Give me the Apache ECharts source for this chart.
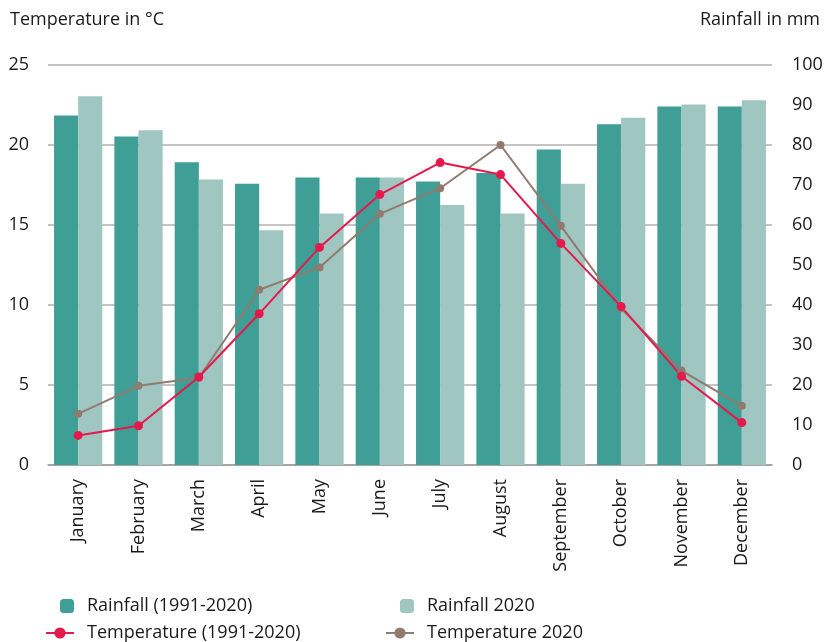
<!DOCTYPE html>
<html>
<head>
<meta charset="utf-8">
<script src="https://cdn.jsdelivr.net/npm/echarts@6/dist/echarts.min.js"></script>
<style>html,body{margin:0;padding:0;background:#fff}#c{width:827px;height:642px}</style>
</head>
<body>
<div id="c"></div>
<script>
var months = ['January','February','March','April','May','June','July','August','September','October','November','December'];
var rainfallNormal = [87.4, 82.1, 75.7, 70.3, 71.9, 71.9, 70.9, 73.0, 78.9, 85.2, 89.6, 89.6];
var rainfall2020 = [92.2, 83.7, 71.4, 58.7, 62.9, 71.9, 65.0, 62.9, 70.3, 86.8, 90.1, 91.2];
var tempNormal = [1.85, 2.45, 5.5, 9.45, 13.6, 16.9, 18.9, 18.15, 13.85, 9.9, 5.55, 2.65];
var temp2020 = [3.2, 4.95, 5.45, 10.95, 12.35, 15.7, 17.3, 20.0, 14.95, 9.8, 5.9, 3.7];
var tempTicks = [0, 25, 5];
var rainTicks = [0, 100, 10];

var FONT = '"Open Sans"';
var TXT = '#1a1a1a';
var C_DARK = '#3f9e96', C_LIGHT = '#a0c6c1', C_RED = '#e5194b', C_BROWN = '#917a6e';

function legendItem(name, left, top, w, h) {
  return {
    data: [name], left: left, top: top, itemWidth: w, itemHeight: h, itemGap: 0, padding: 0,
    textStyle: {fontFamily: FONT, fontSize: 18, color: TXT, padding: [0, 0, 0, 8]},
    selectedMode: false
  };
}

var chart = echarts.init(document.getElementById('c'), null, {renderer: 'canvas'});
chart.setOption({
  animation: false,
  textStyle: {fontFamily: FONT},
  title: [
    {text: 'Temperature in °C', left: 5, top: 6, textStyle: {fontFamily: FONT, fontSize: 18, fontWeight: 'normal', color: TXT}},
    {text: 'Rainfall in mm', right: 2, top: 6, textStyle: {fontFamily: FONT, fontSize: 18, fontWeight: 'normal', color: TXT}}
  ],
  legend: [
    legendItem('Rainfall (1991-2020)', 60, 597, 14, 14),
    legendItem('Rainfall 2020', 400, 597, 14, 14),
    legendItem('Temperature (1991-2020)', 45, 624, 28, 14),
    legendItem('Temperature 2020', 385, 624, 28, 14)
  ],
  grid: {left: 48, right: 55, top: 65, bottom: 177},
  xAxis: {
    type: 'category', data: months,
    axisLine: {lineStyle: {color: '#9a9a9a', width: 1.5}},
    axisTick: {show: false},
    axisLabel: {rotate: 90, margin: 14, fontSize: 18, color: TXT, fontFamily: FONT}
  },
  yAxis: [
    {type: 'value', min: tempTicks[0], max: tempTicks[1], interval: tempTicks[2],
     axisLine: {show: false}, axisTick: {show: false},
     axisLabel: {margin: 19, fontSize: 18, color: TXT, fontFamily: FONT},
     splitLine: {lineStyle: {color: '#b0b0b0', width: 1.5}}},
    {type: 'value', min: rainTicks[0], max: rainTicks[1], interval: rainTicks[2],
     axisLine: {show: false}, axisTick: {show: false},
     axisLabel: {margin: 20, fontSize: 18, color: TXT, fontFamily: FONT},
     splitLine: {show: false}}
  ],
  series: [
    {name: 'Rainfall (1991-2020)', type: 'bar', yAxisIndex: 1, data: rainfallNormal,
     barGap: '0%', barCategoryGap: '20%', itemStyle: {color: C_DARK}},
    {name: 'Rainfall 2020', type: 'bar', yAxisIndex: 1, data: rainfall2020,
     itemStyle: {color: C_LIGHT}},
    {name: 'Temperature 2020', type: 'line', yAxisIndex: 0, data: temp2020,
     symbol: 'circle', symbolSize: 8, lineStyle: {color: C_BROWN, width: 2},
     itemStyle: {color: C_BROWN}},
    {name: 'Temperature (1991-2020)', type: 'line', yAxisIndex: 0, data: tempNormal,
     symbol: 'circle', symbolSize: 9, lineStyle: {color: C_RED, width: 2},
     itemStyle: {color: C_RED}}
  ]
});
</script>
</body>
</html>
